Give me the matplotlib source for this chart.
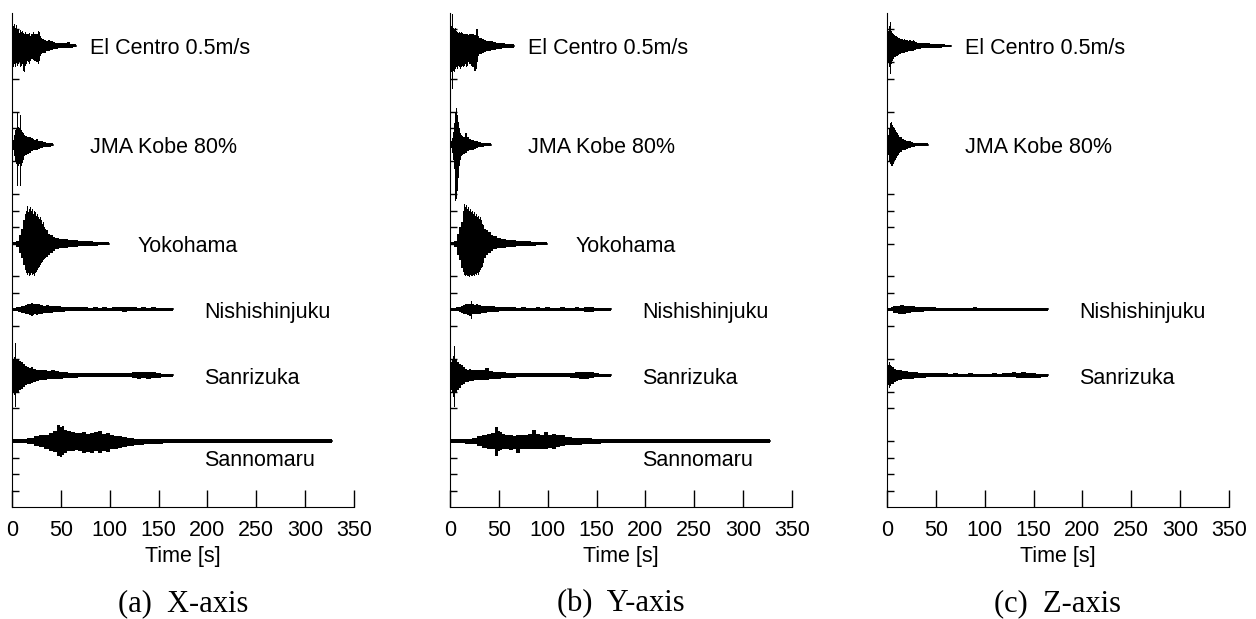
"""
Stacked acceleration records for the three input directions.
Envelopes (upper / lower, in tick units) read from the figure.
"""

import matplotlib
matplotlib.use("Agg")
import matplotlib.pyplot as plt

plt.rcParams['font.family'] = ['Liberation Sans', 'DejaVu Sans']

# ---- trace names, baselines and label anchors (time [s], tick units) ----
names = ['El Centro 0.5m/s', 'JMA Kobe 80%', 'Yokohama', 'Nishishinjuku', 'Sanrizuka', 'Sannomaru']
baselines = [28, 22, 16, 12, 8, 4]
label_t = [80, 80, 128, 197, 197, 197]
label_y = [28, 22, 16, 12, 8, 3]
captions = ['(a)  X-axis', '(b)  Y-axis', '(c)  Z-axis']
x_ticks = [0, 50, 100, 150, 200, 250, 300, 350]

# ---- El Centro ----
t_elc = [0, 1, 2, 3, 4, 5, 6, 7, 8, 9, 10, 11, 12, 13, 14, 15, 16, 17, 18, 19, 20, 22, 24, 26, 27, 28, 29, 30,
         32, 34, 36, 38, 40, 43, 46, 49, 52, 55, 58, 61, 64, 66]
elc_x_up = [0.1, 0.5, 1.2, 1.35, 1.1, 1.3, 0.95, 1.0, 0.8, 0.95, 0.85, 0.9, 0.8, 0.75, 0.85, 0.7, 0.75, 0.7, 0.8, 0.6,
            0.7, 0.85, 0.75, 0.7, 0.9, 0.85, 0.6, 0.5, 0.45, 0.35, 0.3, 0.35, 0.3, 0.25, 0.2, 0.2, 0.15, 0.15, 0.22, 0.1,
            0.1, 0.08]
elc_x_lo = [0.1, 0.6, 1.3, 1.1, 1.3, 1.0, 1.2, 1.1, 1.0, 1.3, 1.2, 1.1, 1.5, 1.6, 1.2, 1.1, 0.9, 1.0, 1.1, 0.9,
            0.8, 0.85, 0.9, 1.0, 1.1, 0.9, 0.6, 0.5, 0.45, 0.4, 0.3, 0.3, 0.25, 0.2, 0.2, 0.15, 0.15, 0.12, 0.1, 0.1,
            0.08, 0.08]
elc_y_up = [0.1, 0.6, 1.2, 1.95, 1.1, 1.0, 1.1, 0.9, 0.85, 0.8, 0.85, 0.8, 0.85, 0.8, 0.75, 0.7, 0.75, 0.7, 0.75, 0.65,
            0.7, 0.75, 0.7, 0.65, 1.05, 1.0, 0.6, 0.5, 0.5, 0.45, 0.35, 0.3, 0.3, 0.3, 0.25, 0.2, 0.2, 0.15, 0.12, 0.1,
            0.1, 0.08]
elc_y_lo = [0.1, 0.7, 1.6, 2.6, 1.5, 1.6, 1.4, 1.3, 1.4, 1.2, 1.3, 1.4, 1.3, 1.2, 1.3, 1.2, 1.1, 1.3, 1.2, 1.0,
            1.1, 1.2, 1.3, 1.5, 1.4, 1.0, 0.6, 0.5, 0.5, 0.45, 0.35, 0.3, 0.3, 0.25, 0.25, 0.2, 0.2, 0.15, 0.12, 0.1,
            0.1, 0.08]
elc_z_up = [0.1, 0.4, 0.9, 1.2, 1.45, 0.9, 0.8, 0.7, 0.65, 0.6, 0.6, 0.55, 0.5, 0.5, 0.45, 0.4, 0.4, 0.35, 0.4, 0.35,
            0.35, 0.3, 0.35, 0.3, 0.35, 0.3, 0.25, 0.25, 0.2, 0.2, 0.2, 0.15, 0.15, 0.15, 0.12, 0.12, 0.1, 0.1, 0.1, 0.08,
            0.08, 0.08]
elc_z_lo = [0.1, 0.5, 1.0, 1.3, 1.7, 1.1, 0.9, 0.8, 0.7, 0.7, 0.6, 0.6, 0.55, 0.5, 0.5, 0.45, 0.45, 0.4, 0.4, 0.35,
            0.35, 0.3, 0.3, 0.3, 0.3, 0.25, 0.25, 0.2, 0.2, 0.2, 0.15, 0.15, 0.15, 0.12, 0.12, 0.1, 0.1, 0.1, 0.08, 0.08,
            0.08, 0.08]

# ---- JMA Kobe ----
t_kobe = [0, 1, 2, 3, 4, 5, 6, 7, 8, 9, 10, 11, 12, 13, 14, 16, 18, 20, 22, 24, 26, 28, 30, 33, 37, 42]
kobe_x_up = [0.05, 0.1, 0.3, 0.6, 0.9, 1.0, 1.9, 1.1, 1.0, 1.8, 0.9, 0.8, 0.7, 0.6, 0.55, 0.5, 0.45, 0.4, 0.35, 0.3,
             0.35, 0.25, 0.2, 0.15, 0.12, 0.08]
kobe_x_lo = [0.05, 0.1, 0.3, 0.7, 1.0, 1.2, 2.5, 1.3, 1.2, 2.5, 1.3, 1.1, 0.9, 0.7, 0.6, 0.55, 0.5, 0.4, 0.35, 0.3,
             0.3, 0.25, 0.2, 0.15, 0.12, 0.08]
kobe_y_up = [0.05, 0.1, 0.2, 0.4, 0.8, 1.3, 2.0, 2.25, 1.8, 1.4, 1.0, 0.7, 0.6, 0.55, 0.5, 0.7, 0.45, 0.35, 0.3, 0.3,
             0.25, 0.2, 0.15, 0.12, 0.1, 0.08]
kobe_y_lo = [0.05, 0.1, 0.2, 0.5, 0.9, 1.5, 3.4, 3.3, 2.8, 2.0, 1.3, 0.9, 0.7, 0.6, 0.55, 0.5, 0.4, 0.35, 0.3, 0.3,
             0.25, 0.2, 0.15, 0.12, 0.1, 0.08]
kobe_z_up = [0.05, 0.2, 0.6, 1.0, 1.3, 1.4, 1.2, 1.1, 1.0, 0.9, 0.8, 0.7, 0.6, 0.5, 0.45, 0.35, 0.3, 0.25, 0.2, 0.2,
             0.15, 0.12, 0.1, 0.1, 0.08, 0.08]
kobe_z_lo = [0.05, 0.2, 0.6, 1.0, 1.2, 1.3, 1.3, 1.2, 1.0, 0.9, 0.8, 0.7, 0.6, 0.5, 0.45, 0.35, 0.3, 0.25, 0.2, 0.2,
             0.15, 0.12, 0.1, 0.1, 0.08, 0.08]

# ---- Yokohama (no vertical record) ----
t_yoko = [0, 3, 6, 8, 10, 12, 14, 15, 16, 17, 18, 19, 20, 21, 22, 23, 24, 25, 26, 27, 28, 29, 30, 31, 32, 33, 34,
          36, 38, 40, 43, 46, 50, 55, 60, 65, 70, 75, 80, 85, 90, 95, 99]
yoko_x_up = [0.05, 0.08, 0.15, 0.5, 0.9, 1.4, 1.8, 2.0, 2.3, 1.9, 2.1, 2.2, 2.0, 2.1, 1.8, 2.0, 1.9, 1.7, 1.8, 1.6,
             1.5, 1.6, 1.4, 1.2, 1.3, 1.0, 0.9, 0.8, 0.6, 0.5, 0.4, 0.35, 0.3, 0.25, 0.2, 0.2, 0.15, 0.18, 0.15, 0.12,
             0.12, 0.1, 0.08]
yoko_x_lo = [0.05, 0.08, 0.2, 0.6, 0.9, 1.3, 1.6, 1.8, 1.9, 1.8, 1.95, 1.9, 1.8, 1.9, 1.85, 1.95, 1.8, 1.7, 1.6, 1.5,
             1.4, 1.3, 1.2, 1.1, 1.0, 0.95, 0.9, 0.8, 0.7, 0.6, 0.45, 0.35, 0.3, 0.25, 0.2, 0.2, 0.15, 0.15, 0.12, 0.12,
             0.1, 0.1, 0.08]
yoko_y_up = [0.05, 0.08, 0.15, 0.6, 1.0, 1.3, 2.0, 2.4, 2.2, 2.35, 2.1, 2.2, 2.0, 2.1, 1.9, 2.0, 1.8, 1.9, 1.7, 1.8,
             1.6, 1.7, 1.5, 1.6, 1.4, 1.2, 1.1, 0.9, 0.8, 0.7, 0.5, 0.45, 0.35, 0.25, 0.2, 0.2, 0.15, 0.18, 0.15, 0.12,
             0.12, 0.1, 0.08]
yoko_y_lo = [0.05, 0.08, 0.2, 0.7, 1.0, 1.5, 1.7, 1.9, 2.0, 1.9, 2.0, 1.95, 2.05, 1.9, 2.0, 1.95, 1.9, 2.0, 1.85, 1.9,
             1.8, 1.9, 1.7, 1.6, 1.5, 1.4, 1.2, 0.9, 0.7, 0.6, 0.45, 0.35, 0.3, 0.25, 0.2, 0.2, 0.15, 0.15, 0.12, 0.12,
             0.1, 0.1, 0.08]

# ---- Nishishinjuku ----
t_nishi = [0, 3, 5, 8, 10, 12, 14, 16, 18, 20, 22, 24, 26, 28, 30, 33, 36, 40, 44, 48, 52, 56, 60, 65, 70, 75, 80,
           85, 90, 95, 100, 105, 110, 115, 120, 125, 130, 135, 140, 145, 150, 155, 160, 165]
nishi_x_up = [0.05, 0.08, 0.12, 0.15, 0.18, 0.2, 0.25, 0.3, 0.35, 0.37, 0.3, 0.35, 0.32, 0.3, 0.25, 0.22, 0.25, 0.2,
              0.2, 0.18, 0.15, 0.15, 0.12, 0.14, 0.12, 0.12, 0.1, 0.12, 0.1, 0.12, 0.1, 0.12, 0.14, 0.15, 0.12, 0.12,
              0.1, 0.12, 0.1, 0.12, 0.08, 0.08, 0.08, 0.08]
nishi_x_lo = [0.05, 0.08, 0.12, 0.15, 0.2, 0.22, 0.25, 0.3, 0.35, 0.38, 0.32, 0.3, 0.35, 0.28, 0.25, 0.22, 0.2, 0.2,
              0.18, 0.15, 0.15, 0.12, 0.12, 0.12, 0.1, 0.12, 0.1, 0.1, 0.12, 0.1, 0.1, 0.12, 0.12, 0.14, 0.12, 0.1,
              0.1, 0.12, 0.1, 0.1, 0.08, 0.08, 0.08, 0.08]
nishi_y_up = [0.05, 0.08, 0.1, 0.12, 0.15, 0.2, 0.28, 0.3, 0.32, 0.35, 0.5, 0.3, 0.28, 0.3, 0.25, 0.22, 0.2, 0.18,
              0.18, 0.15, 0.15, 0.12, 0.12, 0.12, 0.1, 0.12, 0.1, 0.1, 0.12, 0.1, 0.12, 0.1, 0.1, 0.12, 0.1, 0.1,
              0.12, 0.1, 0.15, 0.14, 0.1, 0.08, 0.08, 0.08]
nishi_y_lo = [0.05, 0.08, 0.1, 0.12, 0.18, 0.22, 0.3, 0.3, 0.35, 0.38, 0.57, 0.3, 0.3, 0.28, 0.25, 0.22, 0.2, 0.18,
              0.15, 0.15, 0.12, 0.12, 0.12, 0.1, 0.1, 0.12, 0.1, 0.1, 0.1, 0.1, 0.1, 0.1, 0.1, 0.12, 0.1, 0.1,
              0.1, 0.1, 0.15, 0.14, 0.1, 0.08, 0.08, 0.08]
nishi_z_up = [0.05, 0.08, 0.12, 0.18, 0.2, 0.22, 0.25, 0.25, 0.22, 0.2, 0.2, 0.18, 0.2, 0.18, 0.15, 0.15, 0.14, 0.12,
              0.12, 0.12, 0.1, 0.1, 0.1, 0.1, 0.1, 0.1, 0.1, 0.1, 0.12, 0.1, 0.1, 0.1, 0.1, 0.1, 0.1, 0.1,
              0.1, 0.1, 0.1, 0.1, 0.08, 0.08, 0.08, 0.08]
nishi_z_lo = [0.05, 0.08, 0.12, 0.2, 0.22, 0.25, 0.3, 0.3, 0.28, 0.22, 0.22, 0.2, 0.18, 0.18, 0.15, 0.15, 0.14, 0.12,
              0.12, 0.12, 0.1, 0.1, 0.1, 0.1, 0.1, 0.1, 0.1, 0.1, 0.1, 0.1, 0.1, 0.1, 0.1, 0.1, 0.1, 0.1,
              0.1, 0.1, 0.1, 0.1, 0.08, 0.08, 0.08, 0.08]

# ---- Sanrizuka ----
t_sanri = [0, 1, 2, 3, 4, 5, 6, 8, 10, 12, 14, 16, 18, 20, 23, 26, 30, 34, 38, 42, 46, 50, 55, 60, 65, 70, 75, 80,
           85, 90, 95, 100, 105, 110, 115, 120, 125, 130, 135, 140, 145, 150, 155, 160, 165]
sanri_x_up = [0.05, 0.6, 1.0, 1.1, 1.95, 1.0, 0.9, 0.85, 0.8, 0.7, 0.55, 0.5, 0.45, 0.5, 0.4, 0.35, 0.3, 0.3, 0.28,
              0.3, 0.25, 0.2, 0.18, 0.15, 0.15, 0.12, 0.15, 0.12, 0.14, 0.15, 0.12, 0.14, 0.12, 0.15, 0.14, 0.12,
              0.18, 0.22, 0.2, 0.22, 0.2, 0.15, 0.1, 0.1, 0.08]
sanri_x_lo = [0.05, 0.6, 1.0, 1.2, 1.9, 1.1, 1.0, 0.9, 0.85, 0.7, 0.6, 0.5, 0.5, 0.45, 0.4, 0.35, 0.3, 0.3, 0.25,
              0.25, 0.2, 0.2, 0.18, 0.15, 0.15, 0.12, 0.12, 0.12, 0.12, 0.12, 0.12, 0.12, 0.12, 0.12, 0.12, 0.12,
              0.15, 0.2, 0.18, 0.2, 0.18, 0.14, 0.1, 0.1, 0.08]
sanri_y_up = [0.05, 0.5, 0.8, 0.9, 1.2, 1.75, 0.9, 0.8, 0.7, 0.6, 0.5, 0.4, 0.35, 0.4, 0.35, 0.3, 0.3, 0.3, 0.45,
              0.25, 0.2, 0.2, 0.18, 0.15, 0.15, 0.14, 0.15, 0.12, 0.14, 0.12, 0.12, 0.14, 0.12, 0.12, 0.12, 0.12,
              0.15, 0.2, 0.22, 0.2, 0.18, 0.12, 0.1, 0.1, 0.08]
sanri_y_lo = [0.05, 0.6, 0.9, 1.0, 1.3, 1.95, 1.0, 0.9, 0.8, 0.6, 0.5, 0.4, 0.4, 0.35, 0.35, 0.3, 0.3, 0.28, 0.3,
              0.25, 0.2, 0.2, 0.18, 0.15, 0.15, 0.12, 0.12, 0.12, 0.12, 0.12, 0.12, 0.12, 0.12, 0.12, 0.12, 0.12,
              0.15, 0.18, 0.2, 0.2, 0.15, 0.12, 0.1, 0.1, 0.08]
sanri_z_up = [0.05, 0.4, 0.6, 0.8, 0.65, 0.55, 0.5, 0.4, 0.35, 0.3, 0.3, 0.28, 0.25, 0.25, 0.22, 0.2, 0.2, 0.15,
              0.15, 0.15, 0.12, 0.12, 0.12, 0.12, 0.1, 0.12, 0.1, 0.1, 0.12, 0.1, 0.1, 0.1, 0.1, 0.12, 0.1, 0.12,
              0.15, 0.18, 0.15, 0.18, 0.15, 0.12, 0.1, 0.08, 0.08]
sanri_z_lo = [0.05, 0.4, 0.6, 0.75, 0.65, 0.55, 0.5, 0.4, 0.35, 0.3, 0.3, 0.25, 0.25, 0.22, 0.2, 0.2, 0.18, 0.15,
              0.15, 0.12, 0.12, 0.12, 0.1, 0.1, 0.1, 0.1, 0.1, 0.1, 0.1, 0.1, 0.1, 0.1, 0.1, 0.1, 0.1, 0.1,
              0.1, 0.12, 0.14, 0.16, 0.15, 0.16, 0.14, 0.12, 0.1]

# ---- Sannomaru (no vertical record) ----
t_sanno = [0, 10, 20, 25, 30, 35, 40, 44, 48, 50, 52, 55, 58, 62, 66, 70, 74, 78, 82, 86, 90, 94, 98, 102, 106,
           110, 115, 120, 130, 140, 150, 160, 170, 180, 190, 200, 210, 220, 230, 240, 250, 260, 270, 280, 290, 300,
           310, 320, 327]
sanno_x_up = [0.1, 0.12, 0.2, 0.3, 0.4, 0.4, 0.5, 0.6, 0.95, 0.85, 0.9, 0.7, 0.6, 0.55, 0.5, 0.5, 0.55, 0.45, 0.5,
              0.55, 0.6, 0.45, 0.5, 0.35, 0.3, 0.3, 0.25, 0.2, 0.15, 0.15, 0.12, 0.12, 0.1, 0.1, 0.1, 0.1, 0.1, 0.1,
              0.1, 0.1, 0.1, 0.1, 0.1, 0.1, 0.1, 0.1, 0.1, 0.1, 0.1]
sanno_x_lo = [0.1, 0.12, 0.2, 0.3, 0.35, 0.5, 0.6, 0.65, 0.9, 0.95, 0.85, 0.7, 0.6, 0.6, 0.55, 0.6, 0.7, 0.65, 0.7,
              0.6, 0.7, 0.6, 0.65, 0.5, 0.45, 0.4, 0.35, 0.3, 0.25, 0.2, 0.15, 0.12, 0.1, 0.1, 0.1, 0.1, 0.1, 0.1,
              0.1, 0.1, 0.1, 0.1, 0.1, 0.1, 0.1, 0.1, 0.1, 0.1, 0.1]
sanno_y_up = [0.1, 0.12, 0.15, 0.2, 0.3, 0.4, 0.45, 0.5, 0.85, 0.6, 0.55, 0.45, 0.4, 0.35, 0.33, 0.35, 0.4, 0.35,
              0.45, 0.67, 0.45, 0.4, 0.55, 0.4, 0.45, 0.4, 0.35, 0.25, 0.22, 0.2, 0.15, 0.12, 0.12, 0.12, 0.12, 0.12,
              0.12, 0.12, 0.12, 0.12, 0.12, 0.12, 0.12, 0.12, 0.12, 0.12, 0.12, 0.12, 0.12]
sanno_y_lo = [0.1, 0.12, 0.15, 0.2, 0.3, 0.4, 0.5, 0.5, 0.9, 0.6, 0.55, 0.5, 0.45, 0.55, 0.5, 0.7, 0.5, 0.45, 0.5,
              0.45, 0.5, 0.45, 0.5, 0.4, 0.45, 0.35, 0.3, 0.25, 0.22, 0.18, 0.15, 0.12, 0.12, 0.12, 0.12, 0.12,
              0.12, 0.12, 0.12, 0.12, 0.12, 0.12, 0.12, 0.12, 0.12, 0.12, 0.12, 0.12, 0.12]

# per panel: list of (trace index, times, upper, lower)
panels = [
    [(0, t_elc, elc_x_up, elc_x_lo), (1, t_kobe, kobe_x_up, kobe_x_lo), (2, t_yoko, yoko_x_up, yoko_x_lo),
     (3, t_nishi, nishi_x_up, nishi_x_lo), (4, t_sanri, sanri_x_up, sanri_x_lo), (5, t_sanno, sanno_x_up, sanno_x_lo)],
    [(0, t_elc, elc_y_up, elc_y_lo), (1, t_kobe, kobe_y_up, kobe_y_lo), (2, t_yoko, yoko_y_up, yoko_y_lo),
     (3, t_nishi, nishi_y_up, nishi_y_lo), (4, t_sanri, sanri_y_up, sanri_y_lo), (5, t_sanno, sanno_y_up, sanno_y_lo)],
    [(0, t_elc, elc_z_up, elc_z_lo), (1, t_kobe, kobe_z_up, kobe_z_lo),
     (3, t_nishi, nishi_z_up, nishi_z_lo), (4, t_sanri, sanri_z_up, sanri_z_lo)],
]

fig = plt.figure(figsize=(12.56, 6.19), dpi=100)
lefts = [12 / 1256, 450 / 1256, 887 / 1256]
width = 342 / 1256
bottom = 112 / 619
height = 494 / 619

for p, traces in enumerate(panels):
    ax = fig.add_axes([lefts[p], bottom, width, height])
    for k, t, up, lo in traces:
        off = baselines[k]
        top = [off + u for u in up]
        bot = [off - l for l in lo]
        ax.fill_between(t, bot, top, step='mid', color='black', linewidth=0)
        ax.plot([t[0], t[-1]], [off, off], color='black', linewidth=1.2)
        # nudge the label down a little so the capitals sit centred on the trace
        ax.annotate(names[k], (label_t[k], label_y[k]), xytext=(0, -3), textcoords='offset pixels',
                    fontsize=15.5, va='center', ha='left')

    ax.set_xlim(0, 350)
    ax.set_ylim(0, 30)
    ax.set_xticks(x_ticks)
    ax.set_yticks([u for u in range(1, 30) if u % 5])
    ax.set_yticklabels([])
    ax.tick_params(axis='x', direction='in', length=12, width=1, labelsize=15.5, pad=9)
    ax.tick_params(axis='y', direction='in', length=5, width=1)
    ax.spines['top'].set_visible(False)
    ax.spines['right'].set_visible(False)
    ax.set_xlabel('Time [s]', fontsize=15.5, labelpad=4)

    cx = lefts[p] + width / 2
    fig.text(cx, 15 / 619, captions[p], fontsize=22, family='Liberation Serif', ha='center', va='center')

fig.savefig('out.png', dpi=100)
